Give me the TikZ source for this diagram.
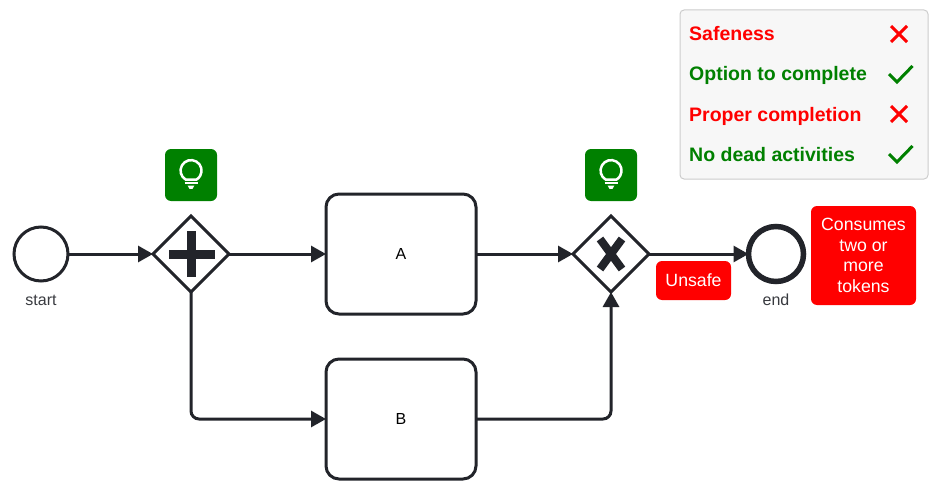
\documentclass[tikz,border=0pt]{standalone}
\usepackage{fontspec}
\setmainfont{Liberation Sans}
\definecolor{BpmnInk}{RGB}{34, 36, 42}
\definecolor{OkGreen}{RGB}{0, 128, 0}
\definecolor{BadRed}{RGB}{255, 0, 0}
\usetikzlibrary{arrows.meta, positioning, shapes.geometric, calc}

\newcommand{\lamp}[1]{%
    \draw[white, line width=2.5pt] ($(#1)+(-5.2,4.7)$) arc[start angle=120, end angle=420, radius=10.5] -- cycle;
    \draw[white, line width=2pt] ($(#1)+(-6.5,8)$) -- ($(#1)+(6.5,8)$);
    \fill[white] ($(#1)+(-3.4,10.6)$) -- ($(#1)+(3.4,10.6)$) -- ($(#1)+(1.5,13.8)$) -- ($(#1)+(-1.5,13.8)$) -- cycle;
}

\begin{document}
\begin{tikzpicture}[
            x=1pt, y=-1pt,
            font=\fontsize{16}{19}\selectfont,
            event/.style={circle, draw=BpmnInk, fill=white, line width=3pt, minimum size=54pt, inner sep=0pt, outer sep=0pt},
            endevent/.style={event, line width=5.5pt, minimum size=55pt},
            gateway/.style={diamond, draw=BpmnInk, fill=white, line width=3pt, minimum width=76pt, minimum height=76pt, inner sep=0pt, outer sep=0pt},
            task/.style={rectangle, rounded corners=13pt, draw=BpmnInk, fill=white, line width=3pt, minimum width=150pt, minimum height=120pt, outer sep=0pt},
            caption/.style={text=BpmnInk!90, font=\fontsize{16}{19}\selectfont},
            lampbox/.style={rectangle, rounded corners=6pt, fill=OkGreen, minimum size=52pt, inner sep=0pt},
            alert/.style={rectangle, rounded corners=6pt, fill=BadRed, text=white, align=center, inner sep=0pt, font=\fontsize{17.7}{20.5}\selectfont},
            legend/.style={rectangle, rounded corners=4pt, draw=black!20, fill=black!3, line width=1pt, minimum width=248pt, minimum height=169pt},
            good/.style={text=OkGreen, font=\fontsize{19.5}{24}\selectfont\bfseries, anchor=base west, inner sep=0pt},
            bad/.style={good, text=BadRed},
            arrow/.style={-{Triangle[length=15pt, width=16pt]}, line width=3pt, BpmnInk, rounded corners=8pt},
            cross/.style={BadRed, line width=3pt},
            tick/.style={OkGreen, line width=3pt}
        ]
            \useasboundingbox (0,0) rectangle (933,487);

            % Flow
            \node[event] (start) at (41,254) {};
            \node[caption] (startlabel) at (41,300) {start};
            \node[gateway] (split) at (191,254) {};
            \node[task] (taskA) at (401,254) {A};
            \node[task] (taskB) at (401,419) {B};
            \node[gateway] (join) at (611,254) {};
            \node[endevent] (finish) at (776,254) {};
            \node[caption] (finishlabel) at (776,300) {end};

            % Gateway markers
            \fill[BpmnInk] (169,249.5) rectangle (215,258.5);
            \fill[BpmnInk] (186.5,231) rectangle (196,277);
            \draw[BpmnInk, line width=8pt] (600,239) -- (622,269);
            \draw[BpmnInk, line width=8pt] (622,239) -- (600,269);

            % Arrows
            \draw[arrow] (start) -- (split);
            \draw[arrow] (split) -- (taskA);
            \draw[arrow] (taskA) -- (join);
            \draw[arrow] (join) -- (finish);
            \draw[arrow] (split.south) |- (taskB.west);
            \draw[arrow] (taskB.east) -| (join.south);

            % Hints
            \node[lampbox] (lampA) at (191,175) {};
            \node[lampbox] (lampB) at (611,175) {};
            \lamp{lampA}
            \lamp{lampB}

            % Warnings
            \node[alert, minimum width=75pt, minimum height=39pt] (unsafe) at (693.5,280.5) {Unsafe};
            \node[alert, minimum width=105pt, minimum height=99pt] (tokens) at (863.5,255.5) {Consumes\\two or\\more\\tokens};

            % Legend
            \node[legend] (panel) at (804,94.5) {};
            \node[bad] (safeness) at (689,41) {Safeness};
            \node[good] (option) at (689,81) {Option to complete};
            \node[bad] (proper) at (689,121) {Proper completion};
            \node[good] (dead) at (689,161) {No dead activities};
            \foreach \y in {34,114} {
                \draw[cross] (891,\y-8) -- (907,\y+8);
                \draw[cross] (907,\y-8) -- (891,\y+8);
            }
            \foreach \y in {74,154} {
                \draw[tick] (889,\y) -- (897,\y+8) -- (912.5,\y-8);
            }
        \end{tikzpicture}
\end{document}
